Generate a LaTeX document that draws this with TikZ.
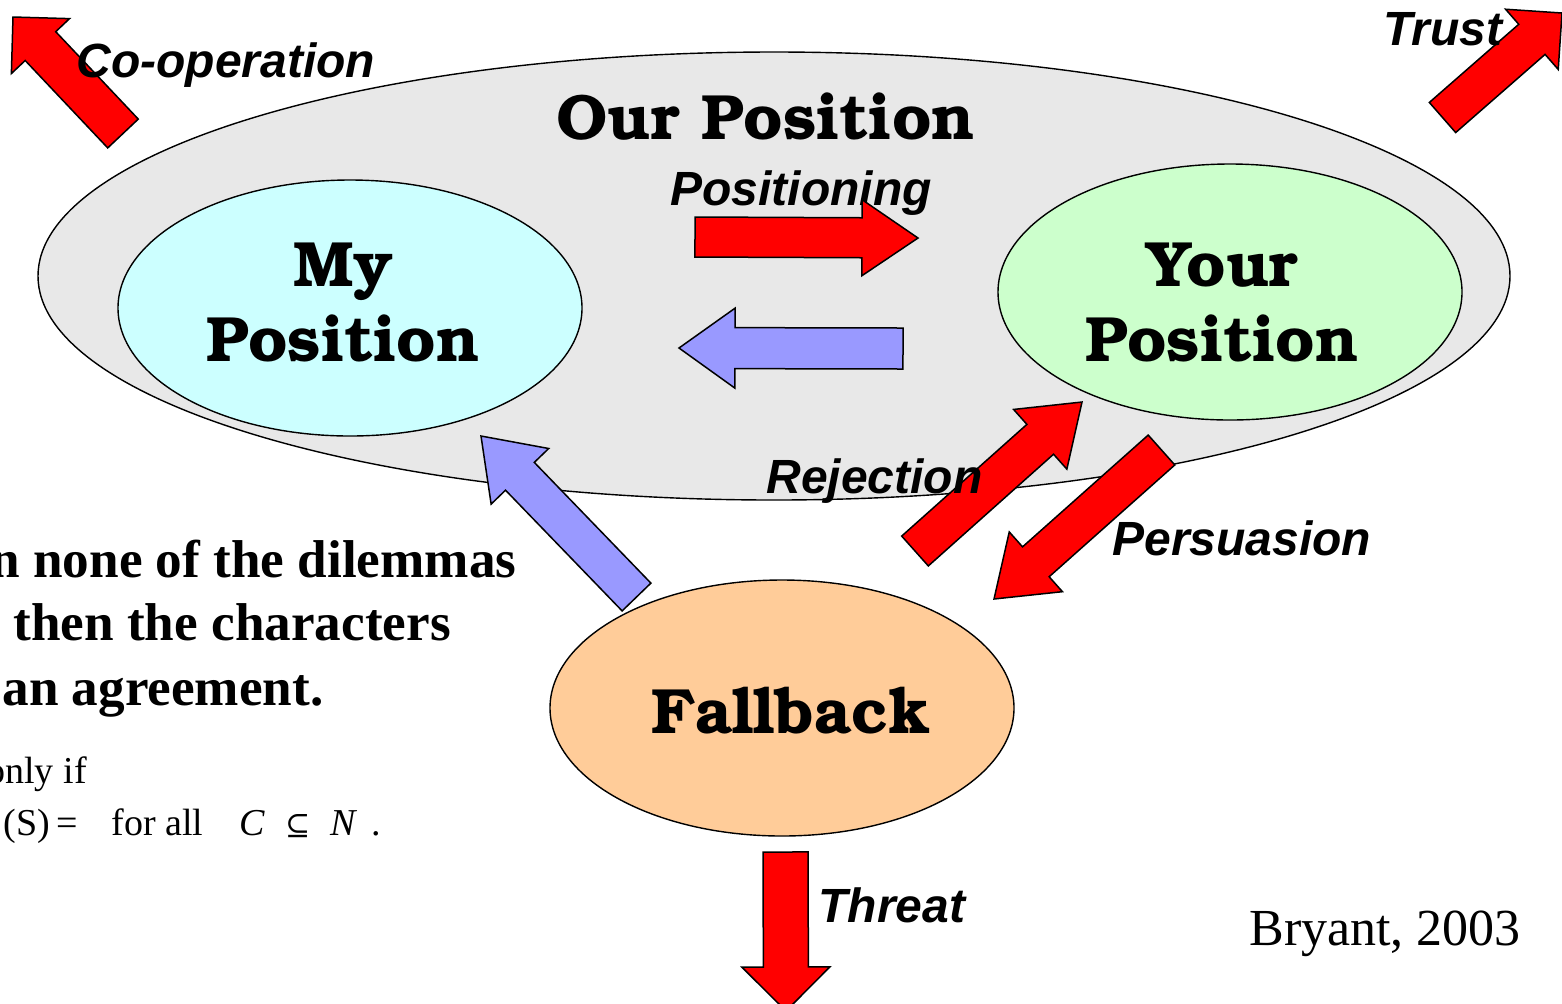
\documentclass[tikz,border=0pt]{standalone}
\usepackage[T1]{fontenc}
\usepackage{fontspec}
\setmainfont{Liberation Serif}
\newfontfamily\arialfont{Liberation Sans}
\newfontfamily\dejafont{DejaVu Serif}
\usetikzlibrary{shapes,calc}
\definecolor{ourgray}{HTML}{E8E8E8}
\definecolor{mycyan}{HTML}{CCFFFF}
\definecolor{yourgreen}{HTML}{CCFFCC}
\definecolor{fallorange}{HTML}{FFCC99}
\definecolor{blockred}{HTML}{FF0000}
\definecolor{blockblue}{HTML}{9999FF}
\tikzset{oval/.style={shape=ellipse, draw, line width=.7pt, inner sep=0pt}}
\tikzset{bigname/.style={font=\usefont{T1}{pbk}{b}{n}\fontsize{32}{40}\selectfont,
    anchor=base, inner sep=0pt}}
\tikzset{move/.style={font=\arialfont\bfseries\itshape\fontsize{24}{28}\selectfont,
    anchor=base west, inner sep=0pt}}
\tikzset{redblock/.style={draw, line width=.75pt, fill=blockred, line join=miter}}
\tikzset{blueblock/.style={redblock, fill=blockblue}}
% #1 style, #2 tail, #3 tip, #4 half shaft, #5 half head, #6 head length
\newcommand{\blockarrow}[6]{%
  \coordinate (hb) at ($(#3)!#6!(#2)$);
  \draw[#1] ($(#2)!#4!90:(#3)$) -- ($(hb)!#4!-90:(#2)$) -- ($(hb)!#5!-90:(#2)$)
    -- (#3) -- ($(hb)!#5!90:(#2)$) -- ($(hb)!#4!90:(#2)$)
    -- ($(#2)!#4!-90:(#3)$) -- cycle;}

\begin{document}
\begin{tikzpicture}[x=.5pt, y=-.5pt]
    \tikzstyle{remark}=[font=\bfseries\fontsize{26.6}{32}\selectfont, anchor=base west, inner sep=0pt]
    \tikzstyle{small}=[font=\fontsize{19}{23}\selectfont, anchor=base west, inner sep=0pt]
    \clip (0,0) rectangle (1562,1003);
    % the three positions
    \node[oval, fill=ourgray, minimum width=736pt, minimum height=224pt] (our) at (774,276) {};
    \node[bigname] (ourlbl) at (766,139) {Our Position};
    \node[move] (posit) at (670,205) {Positioning};
    \coordinate (pos-t) at (695,237);
    \coordinate (pos-h) at (918,238);
    \blockarrow{redblock}{pos-t}{pos-h}{10pt}{19pt}{28pt}
    \coordinate (neg-t) at (903,348.5);
    \coordinate (neg-h) at (679,348);
    \blockarrow{blueblock}{neg-t}{neg-h}{10.25pt}{20pt}{28pt}
    \node[oval, fill=mycyan, minimum width=232pt, minimum height=128pt] (my) at (350,308) {};
    \node[oval, fill=yourgreen, minimum width=232pt, minimum height=128pt] (your) at (1230,292) {};
    \node[oval, fill=fallorange, minimum width=232pt, minimum height=128pt] (fall) at (782,708) {};
    \node[bigname] (my1) at (343,286) {My};
    \node[bigname] (my2) at (343,361) {Position};
    \node[bigname] (your1) at (1222,286) {Your};
    \node[bigname] (your2) at (1222,361) {Position};
    \node[bigname] (falllbl) at (791,733) {Fallback};
    % moves between them
    \coordinate (back-t) at (636.5,597);
    \coordinate (back-h) at (481,436);
    \blockarrow{blueblock}{back-t}{back-h}{10pt}{20pt}{28pt}
    \coordinate (rej-t) at (915,551);
    \coordinate (rej-h) at (1082,402);
    \blockarrow{redblock}{rej-t}{rej-h}{10pt}{20pt}{28pt}
    \coordinate (per-t) at (1161.5,450);
    \coordinate (per-h) at (994,599);
    \blockarrow{redblock}{per-t}{per-h}{10pt}{20pt}{28pt}
    \coordinate (coop-t) at (123,133.5);
    \coordinate (coop-h) at (13,17);
    \blockarrow{redblock}{coop-t}{coop-h}{10.5pt}{20pt}{20pt}
    \coordinate (trust-t) at (1442.5,117.5);
    \coordinate (trust-h) at (1562,13);
    \blockarrow{redblock}{trust-t}{trust-h}{10pt}{20pt}{20pt}
    \coordinate (thr-t) at (785.5,852);
    \coordinate (thr-h) at (786,1011);
    \blockarrow{redblock}{thr-t}{thr-h}{11.25pt}{22pt}{22pt}
    \node[move] (coop) at (76,77) {Co-operation};
    \node[move] (trust) at (1383,45) {Trust};
    \node[move] (rej) at (766,493) {Rejection};
    \node[move] (per) at (1112,555) {Persuasion};
    \node[move] (thr) at (818,922) {Threat};
    % text on the left
    \node[remark] (dil1) at (-10,577) {n none of the dilemmas};
    \node[remark] (dil2) at (13,640) {then the characters};
    \node[remark] (dil3) at (2,705) {an agreement.};
    \node[small] (cond1) at (-14,783) {only if};
    \node[small] (cond2) at (3,835) {(S)\,=\hspace{17pt}for all\hspace{18pt}\textit{C}\hspace{10pt}{\dejafont\fontsize{15}{18}\selectfont ⊆}\hspace{10pt}\textit{N}\hspace{7pt}.};
    \node[font=\fontsize{26}{32}\selectfont, anchor=base west, inner sep=0pt] (ref) at (1249,945) {Bryant, 2003};
\end{tikzpicture}
\end{document}
